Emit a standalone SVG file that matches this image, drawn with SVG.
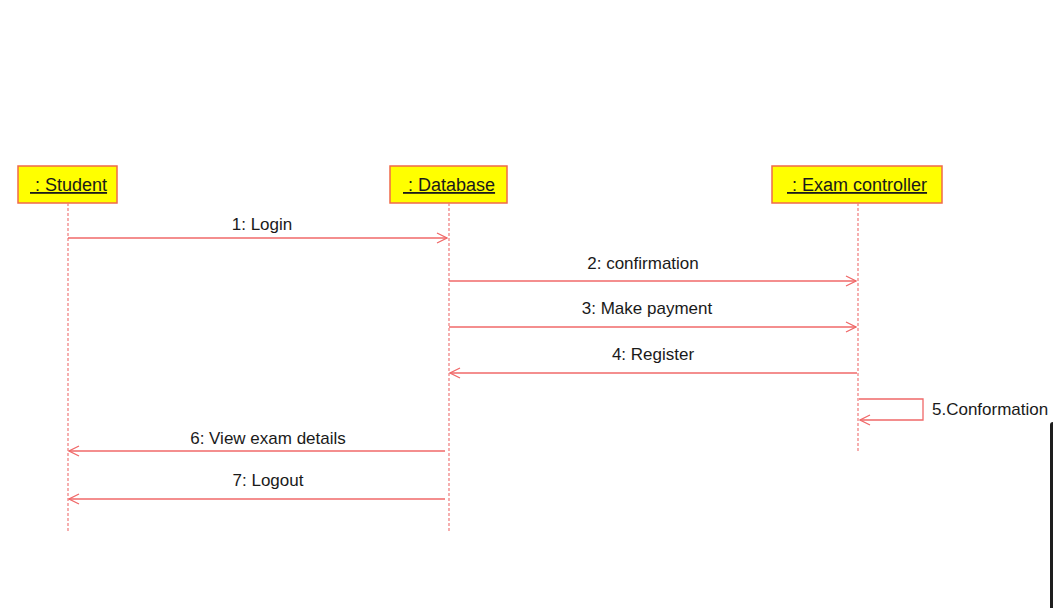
<svg xmlns="http://www.w3.org/2000/svg" width="1053" height="608" viewBox="0 0 1053 608">
<style>
.box{fill:#ffff00;stroke:#f06a4a;stroke-width:1.5}
.name{font-family:"Liberation Sans",Arial,sans-serif;font-size:18px;fill:#1a1a1a;text-decoration:underline;white-space:pre}
.life{stroke:#f07a7a;stroke-width:1.2;stroke-dasharray:3,2;fill:none}
.msg{stroke:#f06868;stroke-width:1.3;fill:none;marker-end:url(#arr)}
.lbl{font-family:"Liberation Sans",Arial,sans-serif;font-size:17px;fill:#1a1a1a;text-anchor:middle}
</style>
<defs>
<marker id="arr" viewBox="0 0 12 12" refX="11" refY="6" markerWidth="12" markerHeight="12" markerUnits="userSpaceOnUse" orient="auto">
<path d="M1,1 L11,6 L1,11" fill="none" stroke="#f06868" stroke-width="1.3"/>
</marker>
</defs>
<rect width="1053" height="608" fill="#ffffff"/>
<g id="student">
<rect class="box" x="18" y="166" width="99" height="37"/>
<text class="name" x="30" y="191" xml:space="preserve"> : Student</text>
</g>
<g id="database">
<rect class="box" x="390" y="166" width="117" height="37"/>
<text class="name" x="403" y="191" xml:space="preserve"> : Database</text>
</g>
<g id="examcontroller">
<rect class="box" x="772" y="166" width="170" height="37"/>
<text class="name" x="787" y="191" xml:space="preserve"> : Exam controller</text>
</g>
<g id="lifelines">
<line class="life" x1="68" y1="203" x2="68" y2="532"/>
<line class="life" x1="449" y1="203" x2="449" y2="532"/>
<line class="life" x1="858" y1="203" x2="858" y2="452"/>
</g>
<g id="connectors">
<line class="msg" x1="68" y1="238" x2="447" y2="238"/>
<line class="msg" x1="449" y1="281" x2="856" y2="281"/>
<line class="msg" x1="449" y1="327" x2="856" y2="327"/>
<line class="msg" x1="857" y1="373" x2="450" y2="373"/>
<path class="msg" d="M859,399 H923 V420 H860"/>
<line class="msg" x1="445" y1="451" x2="69" y2="451"/>
<line class="msg" x1="445" y1="499" x2="69" y2="499"/>
</g>
<g id="labels">
<text class="lbl" x="262" y="230">1: Login</text>
<text class="lbl" x="643" y="269">2: confirmation</text>
<text class="lbl" x="647" y="314">3: Make payment</text>
<text class="lbl" x="653" y="360">4: Register</text>
<text class="lbl" x="932" y="415" style="text-anchor:start">5.Conformation</text>
<text class="lbl" x="268" y="444">6: View exam details</text>
<text class="lbl" x="268" y="486">7: Logout</text>
</g>
<rect x="1050" y="422" width="6" height="190" rx="3" fill="#1e1e1e"/>
</svg>
